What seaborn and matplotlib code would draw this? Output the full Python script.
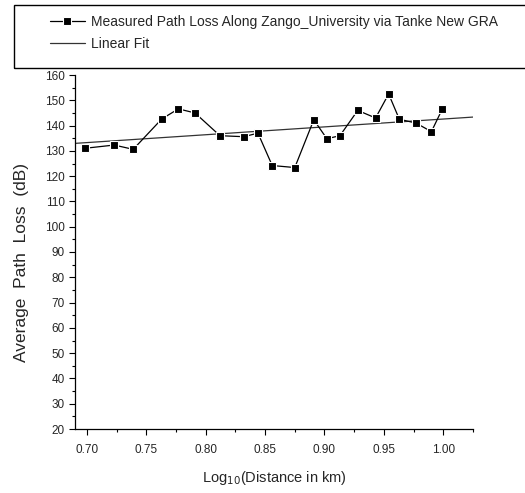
import numpy as np
import pandas as pd
import matplotlib
matplotlib.use("Agg")
import matplotlib.pyplot as plt
import seaborn as sns
from matplotlib.ticker import MultipleLocator, FormatStrFormatter
from matplotlib.patches import Rectangle

sns.set_style("ticks")
plt.rcParams['font.family'] = ['Liberation Sans', 'DejaVu Sans']

# values
log_dist = [0.698, 0.723, 0.739, 0.763, 0.777, 0.791, 0.812, 0.832, 0.844, 0.856, 0.875,
            0.891, 0.902, 0.913, 0.928, 0.943, 0.954, 0.963, 0.977, 0.990, 0.999]
path_loss = [131.0, 132.3, 130.6, 142.6, 146.6, 145.0, 136.0, 135.6, 137.0, 124.2, 123.4,
             142.3, 134.8, 136.0, 146.0, 143.0, 152.5, 142.5, 141.0, 137.6, 146.4]

series_name = "Measured Path Loss Along Zango_University via Tanke New GRA"
fit_name = "Linear Fit"

df = pd.DataFrame({"x": log_dist, "y": path_loss})

fig = plt.figure(figsize=(5.25, 4.93), dpi=100)
ax = fig.add_axes([75 / 525, 1 - 429 / 493, (473 - 75) / 525, (429 - 75) / 493])

ax.set_xlim(0.690, 1.025)
ax.set_ylim(20, 160)

# fit line drawn across the whole axis
sns.regplot(data=df, x="x", y="y", scatter=False, ci=None, truncate=False,
            line_kws={"color": "#333333", "lw": 0.9}, ax=ax, label=fit_name)
sns.lineplot(data=df, x="x", y="y", marker="s", markersize=6, color="black",
             mec="white", mew=0.8, lw=0.9, ax=ax, label=series_name)

ax.set_xlim(0.690, 1.025)
ax.set_ylim(20, 160)
ax.xaxis.set_major_locator(MultipleLocator(0.05))
ax.xaxis.set_minor_locator(MultipleLocator(0.025))
ax.yaxis.set_major_locator(MultipleLocator(10))
ax.yaxis.set_minor_locator(MultipleLocator(5))
ax.xaxis.set_major_formatter(FormatStrFormatter('%.2f'))
ax.tick_params(which="major", direction="out", length=4, width=0.8, labelsize=8.5, color="black")
ax.tick_params(axis="x", which="major", pad=7)
ax.tick_params(which="minor", direction="out", length=2.5, width=0.8, color="black")
for s in ["top", "right"]:
    ax.spines[s].set_visible(False)
for s in ["left", "bottom"]:
    ax.spines[s].set_color("black")
    ax.spines[s].set_linewidth(0.9)

ax.set_xlabel("Log$_{10}$(Distance in km)", fontsize=10.5, labelpad=9)
ax.set_ylabel("Average  Path  Loss  (dB)", fontsize=12.5)
ax.yaxis.set_label_coords((29 - 75) / 398, (429 - 263) / 354)

handles, labels = ax.get_legend_handles_labels()
if ax.get_legend():
    ax.get_legend().remove()
order = [labels.index(series_name), labels.index(fit_name)]

# legend box runs off the right edge like the reference
fig.patches.append(Rectangle((14 / 525, 1 - 68 / 493), 1.2, 63 / 493, transform=fig.transFigure,
                             fill=False, edgecolor="black", lw=1.0))
fig.legend([handles[i] for i in order], [labels[i] for i in order],
           loc="upper left", bbox_to_anchor=(50 / 525, 1 - 15 / 493),
           frameon=False, fontsize=10, borderaxespad=0, borderpad=0,
           handlelength=2.5, handletextpad=0.45, labelspacing=0.55)

fig.savefig("out.png", dpi=100)
